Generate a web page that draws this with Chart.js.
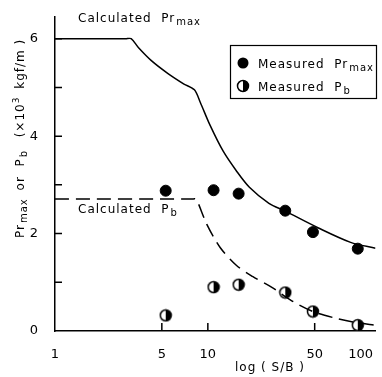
<!DOCTYPE html>
<html>
<head>
<meta charset="utf-8">
<script src="https://cdn.jsdelivr.net/npm/chart.js@4/dist/chart.umd.min.js"></script>
<style>
    html, body { margin: 0; background: #fff; }
    #wrap { width: 382px; height: 377px; }
</style>
</head>
<body>
<div id="wrap"><canvas id="chart"></canvas></div>
<script>
// ----- data -----
const xTicks = [1, 5, 10, 50, 100];
const yTicks = [0, 1, 2, 3, 4, 5, 6];

const calcPrX = [1, 2.9, 3.15, 3.51, 4.27, 5.46, 6.98, 8.17, 8.93, 10.35, 12.6, 15.35, 18.7, 25.1, 32.1, 52.5, 85.9, 125];
const calcPrY = [6, 6, 6, 5.82, 5.55, 5.29, 5.07, 4.95, 4.69, 4.22, 3.69, 3.29, 2.95, 2.62, 2.46, 2.12, 1.82, 1.70];

const calcPbX = [1, 7.9, 8.3, 8.6, 9.85, 12.0, 15.35, 19.6, 26.4, 35.4, 48.7, 67.1, 94.7, 125];
const calcPbY = [2.71, 2.71, 2.71, 2.64, 2.19, 1.72, 1.35, 1.12, 0.89, 0.62, 0.40, 0.27, 0.17, 0.12];

const measX = [5.3, 10.9, 15.9, 32.1, 48.7, 95.7];
const measPr = [2.88, 2.89, 2.82, 2.47, 2.03, 1.69];
const measPb = [0.32, 0.90, 0.95, 0.79, 0.40, 0.12];

const pts = (xs, ys) => xs.map((x, i) => ({ x: x, y: ys[i] }));

// half-filled marker (right half black)
function halfDot(r) {
    const c = document.createElement('canvas');
    const s = Math.ceil(r * 2 + 3);
    c.width = s; c.height = s;
    const g = c.getContext('2d');
    const m = s / 2;
    g.fillStyle = '#fff';
    g.beginPath(); g.arc(m, m, r, 0, Math.PI * 2); g.fill();
    g.fillStyle = '#000';
    g.beginPath(); g.arc(m, m, r, -Math.PI / 2, Math.PI / 2); g.closePath(); g.fill();
    g.strokeStyle = '#000'; g.lineWidth = 1.5;
    g.beginPath(); g.arc(m, m, r, 0, Math.PI * 2); g.stroke();
    return c;
}
const halfMarker = halfDot(5.5);

const FONT = "'DejaVu Sans', sans-serif";

// text with a subscript part
function subText(ctx, x, y, main, sub, size) {
    ctx.font = size + 'px ' + FONT;
    ctx.fillText(main, x, y);
    const w = ctx.measureText(main).width;
    ctx.font = (size - 2) + 'px ' + FONT;
    ctx.fillText(sub, x + w + 1, y + 3);
}

const decor = {
    id: 'decor',
    afterDraw(chart) {
        const ctx = chart.ctx;
        const xs = chart.scales.x, ys = chart.scales.y;
        const area = chart.chartArea;
        ctx.save();
        ctx.strokeStyle = '#000';
        ctx.lineWidth = 1.5;
        // inward tick marks
        ctx.beginPath();
        xTicks.slice(1).forEach(v => {
            const px = xs.getPixelForValue(v);
            ctx.moveTo(px, area.bottom); ctx.lineTo(px, area.bottom - 8);
        });
        yTicks.slice(1).forEach(v => {
            const py = ys.getPixelForValue(v);
            ctx.moveTo(area.left, py); ctx.lineTo(area.left + 7, py);
        });
        ctx.stroke();

        ctx.fillStyle = '#000';
        ctx.letterSpacing = '1px';
        ctx.textBaseline = 'alphabetic';
        ctx.textAlign = 'left';
        subText(ctx, 78, 22, 'Calculated  Pr', 'max', 12);
        subText(ctx, 78, 213, 'Calculated  P', 'b', 12);

        // legend box
        ctx.lineWidth = 1.2;
        ctx.strokeRect(230.5, 45.5, 146, 53);
        ctx.beginPath(); ctx.arc(243, 63, 5.5, 0, Math.PI * 2); ctx.fill();
        ctx.drawImage(halfMarker, 243 - halfMarker.width / 2, 86 - halfMarker.height / 2);
        subText(ctx, 258, 68, 'Measured  Pr', 'max', 12);
        subText(ctx, 258, 91, 'Measured  P', 'b', 12);

        // axis titles
        ctx.textAlign = 'center';
        ctx.font = '12px ' + FONT;
        ctx.fillText('log ( S/B )', 270, 371);

        ctx.translate(24, 238);
        ctx.rotate(-Math.PI / 2);
        ctx.textAlign = 'left';
        subText(ctx, 0, 0, 'Pr', 'max', 12);
        let w = 0;
        ctx.font = '12px ' + FONT; w += ctx.measureText('Pr').width;
        ctx.font = '10px ' + FONT; w += ctx.measureText('max').width + 4;
        ctx.font = '12px ' + FONT;
        const mid = ' or  P';
        ctx.fillText(mid, w, 0);
        w += ctx.measureText(mid).width;
        ctx.font = '10px ' + FONT;
        ctx.fillText('b', w + 1, 3);
        w += ctx.measureText('b').width + 4;
        ctx.font = '12px ' + FONT;
        ctx.fillText('  (×10', w, 0);
        w += ctx.measureText('  (×10').width;
        ctx.font = '9px ' + FONT;
        ctx.fillText('3', w, -5);
        w += ctx.measureText('3').width + 3;
        ctx.font = '12px ' + FONT;
        ctx.fillText(' kgf/m )', w, 0);
        ctx.restore();
    }
};

new Chart(document.getElementById('chart'), {
    type: 'scatter',
    data: {
        datasets: [
            {
                label: 'Calculated Prmax',
                data: pts(calcPrX, calcPrY),
                showLine: true,
                borderColor: '#000',
                borderWidth: 1.5,
                pointRadius: 0,
                tension: 0.3
            },
            {
                label: 'Calculated Pb',
                data: pts(calcPbX, calcPbY),
                showLine: true,
                borderColor: '#000',
                borderWidth: 1.5,
                borderDash: [14, 7],
                pointRadius: 0,
                tension: 0.3
            },
            {
                label: 'Measured Prmax',
                data: pts(measX, measPr),
                pointStyle: 'circle',
                pointRadius: 5.5,
                backgroundColor: '#000',
                borderColor: '#000'
            },
            {
                label: 'Measured Pb',
                data: pts(measX, measPb),
                pointStyle: halfMarker
            }
        ]
    },
    options: {
        responsive: true,
        maintainAspectRatio: false,
        animation: false,
        layout: { padding: { top: 8, right: 0, left: 0, bottom: 0 } },
        plugins: {
            legend: { display: false },
            tooltip: { enabled: false }
        },
        scales: {
            x: {
                type: 'logarithmic',
                min: 1,
                max: 125,
                afterBuildTicks: (s) => { s.ticks = xTicks.map(v => ({ value: v })); },
                afterFit: (s) => { s.height = 46; },
                grid: { display: false },
                border: { color: '#000', width: 1.5 },
                ticks: {
                    color: '#000',
                    padding: 8,
                    maxRotation: 0,
                    autoSkip: false,
                    font: { family: FONT, size: 13 },
                    callback: (v) => String(v)
                }
            },
            y: {
                min: 0,
                max: 6.45,
                afterBuildTicks: (s) => { s.ticks = yTicks.map(v => ({ value: v })); },
                afterFit: (s) => { s.width = 55; },
                grid: { display: false },
                border: { color: '#000', width: 1.5 },
                ticks: {
                    color: '#000',
                    padding: 9,
                    font: { family: FONT, size: 13 },
                    callback: (v) => (v % 2 === 0 ? String(v) : '')
                }
            }
        }
    },
    plugins: [decor]
});
</script>
</body>
</html>
